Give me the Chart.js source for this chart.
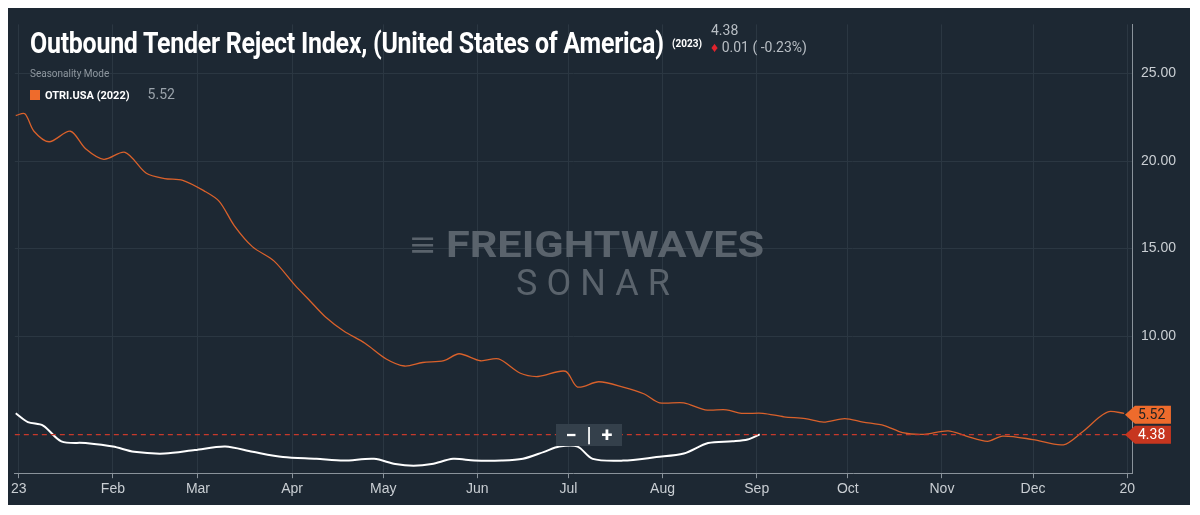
<!DOCTYPE html>
<html><head><meta charset="utf-8">
<script src="https://cdn.jsdelivr.net/npm/chart.js@4"></script>
<style>
body{margin:0;background:#fff;width:1200px;height:515px;overflow:hidden;font-family:Roboto,"Noto Sans",sans-serif}
#panel{position:absolute;left:8px;top:8px;width:1182px;height:497px;background:#1d2833}
#wrap{position:absolute;left:0;top:0;width:1182px;height:497px}
.t{position:absolute;color:#fff;white-space:nowrap}
#title{left:22px;top:18px;font-family:Roboto,sans-serif;font-weight:bold;font-size:29px;transform:scaleX(0.86);transform-origin:0 0;letter-spacing:-0.3px}
#yr{left:664px;top:30px;font-size:10px;font-weight:bold}
#last{left:703px;top:14px;font-size:14px;color:#b8bec4}
#chg{left:703px;top:31px;font-size:14px;color:#b8bec4}
#seas{left:22px;top:60px;font-size:10px;color:#8e979f}
#leg{left:22px;top:78px;font-size:11px;font-weight:bold}
#leg span.sw{display:inline-block;width:10px;height:10px;background:#ee6b2c;margin-right:5px;vertical-align:-1px}
#leg span.v{color:#9aa3ab;font-weight:normal;font-size:14px;margin-left:18px}
#wm1{left:402px;top:216px;font-size:36px;font-weight:bold;color:#5a636c;transform:scaleX(1.2);transform-origin:0 0}
#wm2{left:508px;top:254px;font-size:36px;color:#5a636c;letter-spacing:9px}
#btn{left:548px;top:416px;width:66px;height:22px;background:#34404b;color:#fff;font-size:20px;font-weight:bold;text-align:center;line-height:22px}
</style></head><body>
<div id="panel">
<div id="wrap"><canvas id="c"></canvas></div>
<div class="t" id="title">Outbound Tender Reject Index, (United States of America)</div>
<div class="t" id="yr">(2023)</div>
<div class="t" id="last">4.38</div>
<div class="t" id="chg"><span style="color:#e0232d">&#9830;</span> 0.01 ( -0.23%)</div>
<div class="t" id="seas">Seasonality Mode</div>
<div class="t" id="leg"><span class="sw"></span>OTRI.USA (2022)<span class="v">5.52</span></div>
<div class="t" id="wm1">&#8801; FREIGHTWAVES</div>
<div class="t" id="wm2">SONAR</div>
<div class="t" id="btn">&minus; &nbsp;|&nbsp; +</div>
</div>
<script>
// day of year (0 = Jan 1)
const days2022 = [-1,2,5,10,17,22,28,35,42,48,54,61,66,71,77,84,91,96,101,107,114,121,127,133,140,145,152,158,165,171,180,184,191,199,206,211,219,226,233,238,245,252,259,265,272,278,285,291,298,306,312,319,324,334,344,350,356,359,364];
const vals2022 = [22.6,22.7,21.7,21.1,21.7,20.7,20.1,20.5,19.3,19.0,18.9,18.3,17.7,16.3,15.1,14.3,12.9,12.0,11.1,10.3,9.6,8.7,8.3,8.5,8.6,9.0,8.6,8.7,7.9,7.7,8.0,7.1,7.4,7.1,6.7,6.2,6.2,5.8,5.8,5.6,5.6,5.4,5.3,5.1,5.3,5.1,4.9,4.5,4.4,4.6,4.3,4.0,4.3,4.1,3.8,4.5,5.4,5.7,5.6];
const days2023 = [-1,3,8,14,22,31,38,48,58,68,77,87,98,107,117,124,130,136,143,150,159,166,173,178,184,189,199,210,219,227,235,240,244];
const vals2023 = [5.6,5.1,4.9,4.0,3.9,3.7,3.4,3.3,3.5,3.7,3.4,3.1,3.0,2.9,3.0,2.7,2.6,2.7,3.0,2.9,2.9,3.0,3.4,3.7,3.7,3.0,2.9,3.1,3.3,3.9,4.0,4.1,4.4];
const monthDays = [0,31,59,90,120,151,181,212,243,273,304,334,365];
const monthLabels = ['23','Feb','Mar','Apr','May','Jun','Jul','Aug','Sep','Oct','Nov','Dec','20'];
const yTicks = [10,15,20,25];
const last2022 = 5.52, last2023 = 4.38;

const pts = (d,v)=>d.map((x,i)=>({x:x,y:v[i]}));

const tags = {
  id:'tags',
  afterDatasetsDraw(ch){
    const {ctx,chartArea:a,scales:{y}} = ch;
    const yl = y.getPixelForValue(last2023);
    ctx.save();
    ctx.strokeStyle='#c7392b';ctx.lineWidth=1.2;ctx.setLineDash([5,4]);
    ctx.beginPath();ctx.moveTo(a.left,yl);ctx.lineTo(a.right,yl);ctx.stroke();
    ctx.setLineDash([]);
    [[last2022,'#ee6b2c','#222'],[last2023,'#c7361f','#fff']].forEach(([v,bg,fg])=>{
      const py = y.getPixelForValue(v), x0=a.right-8;
      ctx.fillStyle=bg;ctx.beginPath();
      ctx.moveTo(x0,py);ctx.lineTo(x0+10,py-9);ctx.lineTo(x0+46,py-9);ctx.lineTo(x0+46,py+9);ctx.lineTo(x0+10,py+9);ctx.closePath();ctx.fill();
      ctx.fillStyle=fg;ctx.font='14px Roboto';ctx.textBaseline='middle';
      ctx.fillText(v.toFixed(2),x0+13,py+1);
    });
    ctx.restore();
  }
};

new Chart('c',{
  type:'line',
  data:{datasets:[
    {data:pts(days2022,vals2022),borderColor:'#d9612b',borderWidth:1.3,pointRadius:0,tension:0.3},
    {data:pts(days2023,vals2023),borderColor:'#ffffff',borderWidth:2,pointRadius:0,tension:0.3}
  ]},
  options:{
    responsive:true,maintainAspectRatio:false,animation:false,
    layout:{padding:{left:0,right:6,top:0,bottom:4}},
    plugins:{legend:{display:false},tooltip:{enabled:false}},
    scales:{
      x:{type:'linear',min:-1.3,max:366.9,
        afterBuildTicks(s){s.ticks=monthDays.map(v=>({value:v}));},
        ticks:{color:'#c9ced3',font:{size:14},maxRotation:0,autoSkip:false,callback:(v)=>monthLabels[monthDays.indexOf(v)]},
        grid:{color:'#2b3742',drawTicks:true,tickLength:5,tickColor:'#8a939b'},
        border:{color:'#8a939b'}},
      y:{position:'right',min:2.18,max:27.8,
        afterBuildTicks(s){s.ticks=yTicks.map(v=>({value:v}));},
        ticks:{color:'#c9ced3',font:{size:14},padding:8,callback:v=>v.toFixed(2)},
        grid:{color:'#2b3742',drawTicks:false},
        border:{color:'#8a939b'}}
    }
  },
  plugins:[tags]
});
</script>
</body></html>
